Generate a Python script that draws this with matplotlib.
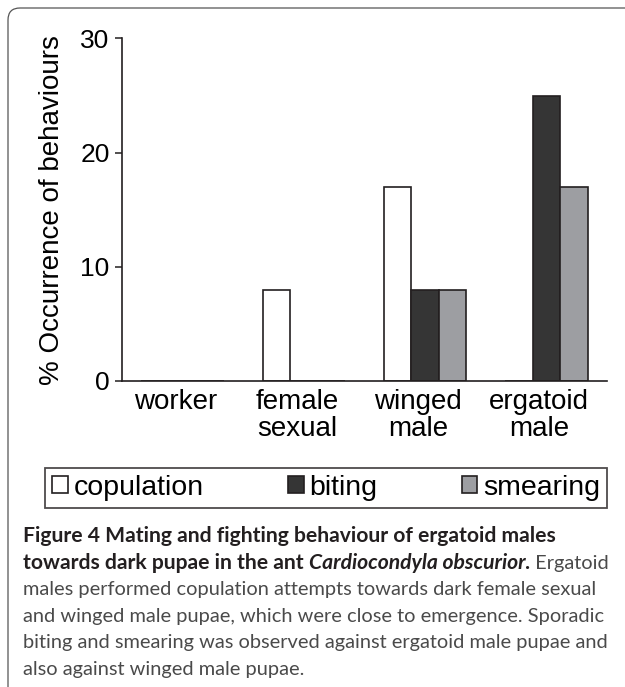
import numpy as np
import matplotlib
matplotlib.use("Agg")
import matplotlib.pyplot as plt
from matplotlib.patches import FancyBboxPatch, Patch
from matplotlib.transforms import ScaledTranslation, IdentityTransform

# data
categories = ["worker", "female\nsexual", "winged\nmale", "ergatoid\nmale"]
behaviours = ["copulation", "biting", "smearing"]
copulation = [0, 8, 17, 0]
biting = [0, 0, 8, 25]
smearing = [0, 0, 8, 17]
yticks = [0, 10, 20, 30]

COLORS = ["#ffffff", "#353535", "#9d9ea2"]
EDGE = "#231f20"

plt.rcParams["font.family"] = ["Liberation Sans", "DejaVu Sans"]

W, H = 625, 687
fig = plt.figure(figsize=(W / 100, H / 100), dpi=100)

def px(x0, y0, x1, y1):
    # pixel box (top-left origin) -> figure fraction rect
    return [x0 / W, 1 - y1 / H, (x1 - x0) / W, (y1 - y0) / H]

# outer rounded frame, running off the right and bottom edges (pixel coords)
frame = FancyBboxPatch((8, -40), 800, H - 8 + 40,
                       boxstyle="round,pad=0,rounding_size=12",
                       transform=IdentityTransform(), fill=False,
                       edgecolor="#555555", lw=0.9, clip_on=False)
fig.patches.append(frame)

ax = fig.add_axes(px(122, 38.5, 607, 381))
x = np.arange(len(categories))
bw = 0.227
for i, (vals, col, name) in enumerate(zip([copulation, biting, smearing], COLORS, behaviours)):
    ax.bar(x + (i - 1) * bw, vals, bw, color=col, edgecolor=EDGE, linewidth=1.2, label=name, zorder=2)

ax.set_xlim(-0.5, len(categories) - 0.5)
ax.set_ylim(0, 30)
ax.set_yticks(yticks)
ax.tick_params(axis="y", labelsize=19, length=5, width=1.1, pad=4, color=EDGE)
ax.set_xticks(x)
ax.set_xticklabels(categories, fontsize=20, linespacing=1.05)
ax.tick_params(axis="x", length=0, pad=6)
for lab in ax.get_xticklabels():
    lab.set_transform(lab.get_transform() + ScaledTranslation(-7 / 100, 0, fig.dpi_scale_trans))
for s in ["top", "right"]:
    ax.spines[s].set_visible(False)
for s in ["left", "bottom"]:
    ax.spines[s].set_linewidth(1.2)
    ax.spines[s].set_color(EDGE)
ax.set_ylabel("% Occurrence of behaviours", fontsize=20)
ax.yaxis.label.set_va("center")
ax.yaxis.set_label_coords((52 - 122) / 485, 0.5)

handles = [Patch(facecolor=c, edgecolor=EDGE, linewidth=1.2) for c in COLORS]
leg = fig.legend(handles, behaviours, loc="lower left", ncol=3, mode="expand",
                 bbox_to_anchor=px(45, 461, 607, 508), borderaxespad=0,
                 fontsize=20.5, handlelength=0.55, handleheight=0.55,
                 handletextpad=0.2, borderpad=0.25, fancybox=False,
                 frameon=True)
leg.get_frame().set_edgecolor(EDGE)
leg.get_frame().set_linewidth(1.3)

# caption, run by run: (text, weight, style, colour, size)
CAP = ["Lato", "DejaVu Sans"]
dark = "#231f20"
grey = "#4a4a4a"
lines = [
    [("Figure 4 Mating and fighting behaviour of ergatoid males", "bold", "normal", dark, 15.2)],
    [("towards dark pupae in the ant ", "bold", "normal", dark, 15.2),
     ("Cardiocondyla obscurior.", "bold", "italic", dark, 15.2),
     (" Ergatoid", "normal", "normal", grey, 14.4)],
    [("males performed copulation attempts towards dark female sexual", "normal", "normal", grey, 14.4)],
    [("and winged male pupae, which were close to emergence. Sporadic", "normal", "normal", grey, 14.4)],
    [("biting and smearing was observed against ergatoid male pupae and", "normal", "normal", grey, 14.4)],
    [("also against winged male pupae.", "normal", "normal", grey, 14.4)],
]
renderer = fig.canvas.get_renderer()
y0 = 542
for k, runs in enumerate(lines):
    xp = 23
    yb = y0 + k * 26.6
    for txt, wt, st, col, sz in runs:
        t = fig.text(xp / W, 1 - yb / H, txt, fontsize=sz, family=CAP,
                     fontweight=wt, fontstyle=st, color=col, va="baseline", ha="left")
        bb = t.get_window_extent(renderer)
        xp += bb.width

fig.savefig("out.png", dpi=100)
